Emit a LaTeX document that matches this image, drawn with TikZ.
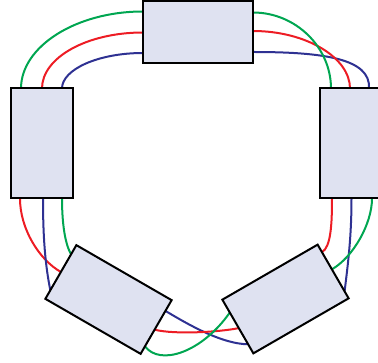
\documentclass[tikz,border=0pt]{standalone}
\usetikzlibrary{calc,backgrounds}
\definecolor{cg}{HTML}{00A651}
\definecolor{cr}{HTML}{ED1C24}
\definecolor{cb}{HTML}{2E3192}
\definecolor{boxfill}{HTML}{DFE2F1}
\begin{document}
\begin{tikzpicture}[x=1pt,y=-1pt,
  box/.style={draw=black,line width=2pt,fill=boxfill,minimum width=110pt,minimum height=62pt,inner sep=0pt,outer sep=0pt},
  tallbox/.style={box,minimum width=62pt,minimum height=110pt},
  wire/.style={line width=2pt}]
\useasboundingbox (0,0) rectangle (378,363);
\node[box] (T) at (198,32.5) {};
\node[tallbox] (L) at (42,143.5) {};
\node[tallbox] (R) at (351,143.5) {};
\node[box,rotate=-30] (BL) at (108.5,299.5) {};
\node[box,rotate=30] (BR) at (285.5,299) {};
\begin{scope}[on background layer]
% top - left
\draw[wire,cg] ($(T.west)+(0,-21)$) .. controls +(-67,0) and +(0,-42) .. ($(L.north)+(-21,0)$);
\draw[wire,cr] (T.west) .. controls +(-56,0) and +(0,-31) .. (L.north);
\draw[wire,cb] ($(T.west)+(0,20.5)$) .. controls +(-45,0) and +(0,-19) .. ($(L.north)+(20,0)$);
% top - right
\draw[wire,cb] ($(T.east)+(0,19.5)$) .. controls +(70,0) and +(2,-30) .. ($(R.north)+(18,0)$);
\draw[wire,cr] ($(T.east)+(0,-1.5)$) .. controls +(53,0) and +(0,-31) .. ($(R.north)+(-1,0)$);
\draw[wire,cg] ($(T.east)+(0,-20)$) .. controls +(43,0) and +(0,-41) .. ($(R.north)+(-20,0)$);
% left - bottom left
\draw[wire,cr] ($(L.south)+(-22,0)$) .. controls +(0,30) and +(-22,-12.5) .. ($(BL.north west)!0.5!(BL.south west)$);
\draw[wire,cb] ($(L.south)+(1,0)$) .. controls +(0,40) and +(-5,-25) .. ($(BL.north west)!0.84!(BL.south west)$);
\draw[wire,cg] ($(L.south)+(20,0)$) .. controls +(0,25) and +(-6,-10) .. ($(BL.north west)!0.17!(BL.south west)$);
% bottom left - bottom right
\draw[wire,cb] ($(BL.north east)!0.2!(BL.south east)$) .. controls +(25,15) and +(-25,0) .. ($(BR.north west)!0.83!(BR.south west)$);
\draw[wire,cr] ($(BL.north east)!0.55!(BL.south east)$) .. controls +(20,5) and +(-20,4) .. ($(BR.north west)!0.53!(BR.south west)$);
\draw[wire,cg] ($(BL.north east)!0.86!(BL.south east)$) .. controls +(15,20) and +(-28,40) .. ($(BR.north west)!0.24!(BR.south west)$);
% right - bottom right
\draw[wire,cr] ($(R.south)+(-19,0)$) .. controls +(0,25) and +(9,-5) .. ($(BR.north east)!0.14!(BR.south east)$);
\draw[wire,cb] ($(R.south)+(0.5,0)$) .. controls +(0,40) and +(3,-25) .. ($(BR.north east)!0.87!(BR.south east)$);
\draw[wire,cg] ($(R.south)+(21,0)$) .. controls +(0,25) and +(21.6,-12.5) .. ($(BR.north east)!0.46!(BR.south east)$);
\end{scope}
\end{tikzpicture}
\end{document}
